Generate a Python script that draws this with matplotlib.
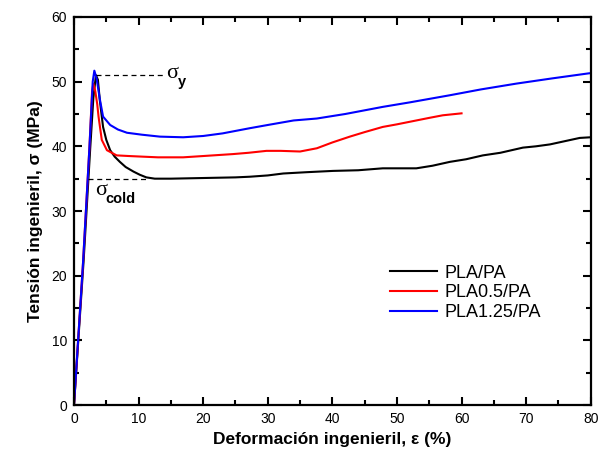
import matplotlib
matplotlib.use("Agg")
import matplotlib.pyplot as plt
from matplotlib.ticker import MultipleLocator

plt.rcParams['font.family'] = ['Liberation Sans', 'DejaVu Sans']

# strain (%) and stress (MPa)
x_pla = [0, 1.5, 2.5, 3.0, 3.4, 3.7, 4.0, 4.5, 5.0, 5.6, 6.3, 7.1, 8.0, 9.2, 10.2, 11.2, 12.5,
         15, 20, 25, 27.2, 30, 32.4, 36, 40.1, 44, 47.8, 53, 55.5, 58.2, 60.7, 63.3, 66,
         69.5, 71.5, 73.7, 76, 78.3, 80]
y_pla = [0, 22.5, 39.5, 47.5, 51.0, 50.3, 47.1, 43.0, 41.0, 39.4, 38.4, 37.6, 36.8, 36.1, 35.6, 35.2, 35.0,
         35.0, 35.1, 35.2, 35.3, 35.5, 35.8, 36.0, 36.2, 36.3, 36.6, 36.6, 37.0, 37.6, 38.0, 38.6, 39.0,
         39.8, 40.0, 40.3, 40.8, 41.3, 41.4]

x_pla05 = [0, 1.4, 2.4, 2.8, 3.0, 3.3, 3.6, 3.8, 4.3, 5.1, 6.6, 8.5, 10.7, 13.0, 16.9,
           20, 24.6, 27, 29.8, 32, 35, 37.6, 40, 42.7, 45, 47.8, 50, 53, 55, 57.1, 60]
y_pla05 = [0, 22, 40, 48.5, 49.7, 48.5, 46.5, 44.6, 41.0, 39.4, 38.6, 38.5, 38.4, 38.3, 38.3,
           38.5, 38.8, 39.0, 39.3, 39.3, 39.2, 39.7, 40.6, 41.5, 42.2, 43.0, 43.4, 44.0, 44.4, 44.8, 45.1]

x_pla125 = [0, 1.4, 2.4, 2.9, 3.15, 3.5, 4.0, 4.5, 5.6, 6.8, 8.2, 10.5, 13.3, 16.9,
            20, 23, 27.2, 30, 34, 37.6, 42, 47.8, 52, 58.2, 63, 68.5, 74, 79.8, 80]
y_pla125 = [0, 22, 40, 50, 51.7, 50.5, 47.3, 44.6, 43.3, 42.6, 42.1, 41.8, 41.5, 41.4,
            41.6, 42.0, 42.8, 43.3, 44.0, 44.3, 45.0, 46.1, 46.8, 47.9, 48.8, 49.7, 50.5, 51.3, 51.3]

labels = ['PLA/PA', 'PLA0.5/PA', 'PLA1.25/PA']
colors = ['black', 'red', 'blue']

fig = plt.figure(figsize=(6.09, 4.59), dpi=100)
ax = fig.add_axes([0.1215, 0.1176, 0.8485, 0.8454])

ax.plot(x_pla, y_pla, color=colors[0], lw=1.5, label=labels[0])
ax.plot(x_pla05, y_pla05, color=colors[1], lw=1.5, label=labels[1])
ax.plot(x_pla125, y_pla125, color=colors[2], lw=1.5, label=labels[2])

# yield and cold-drawing marks
ax.plot([3.4, 13.8], [51.0, 51.0], 'k--', lw=0.9, dashes=(4, 3))
ax.plot([2.2, 11.5], [35.0, 35.0], 'k--', lw=0.9, dashes=(4, 3))
ax.text(14.3, 51.3, 'σ', family='Liberation Serif', fontsize=16, va='center')
ax.annotate('y', (14.3, 51.3), xytext=(8, -6), textcoords='offset points',
            fontsize=10.5, fontweight='bold', va='center')
ax.text(3.2, 33.2, 'σ', family='Liberation Serif', fontsize=16, va='center')
ax.annotate('cold', (3.2, 33.2), xytext=(8, -6), textcoords='offset points',
            fontsize=10.5, fontweight='bold', va='center')

ax.set_xlim(0, 80)
ax.set_ylim(0, 60)
ax.xaxis.set_major_locator(MultipleLocator(10))
ax.xaxis.set_minor_locator(MultipleLocator(5))
ax.yaxis.set_major_locator(MultipleLocator(10))
ax.yaxis.set_minor_locator(MultipleLocator(5))
ax.tick_params(which='both', direction='in', top=True, right=True, width=1.5, labelsize=10)
ax.tick_params(which='major', length=6, pad=5)
ax.tick_params(which='minor', length=3.5)
for s in ax.spines.values():
    s.set_linewidth(1.6)

ax.set_xlabel('Deformación ingenieril, ε (%)', fontsize=12.5, fontweight='bold', labelpad=4)
ax.set_ylabel('Tensión ingenieril, σ (MPa)', fontsize=12.5, fontweight='bold', labelpad=6)

ax.legend(loc='upper left', bbox_to_anchor=(0.595, 0.385), frameon=False, fontsize=13,
          handlelength=2.6, handletextpad=0.4, labelspacing=0.15, borderpad=0)

fig.savefig('out.png', dpi=100)
